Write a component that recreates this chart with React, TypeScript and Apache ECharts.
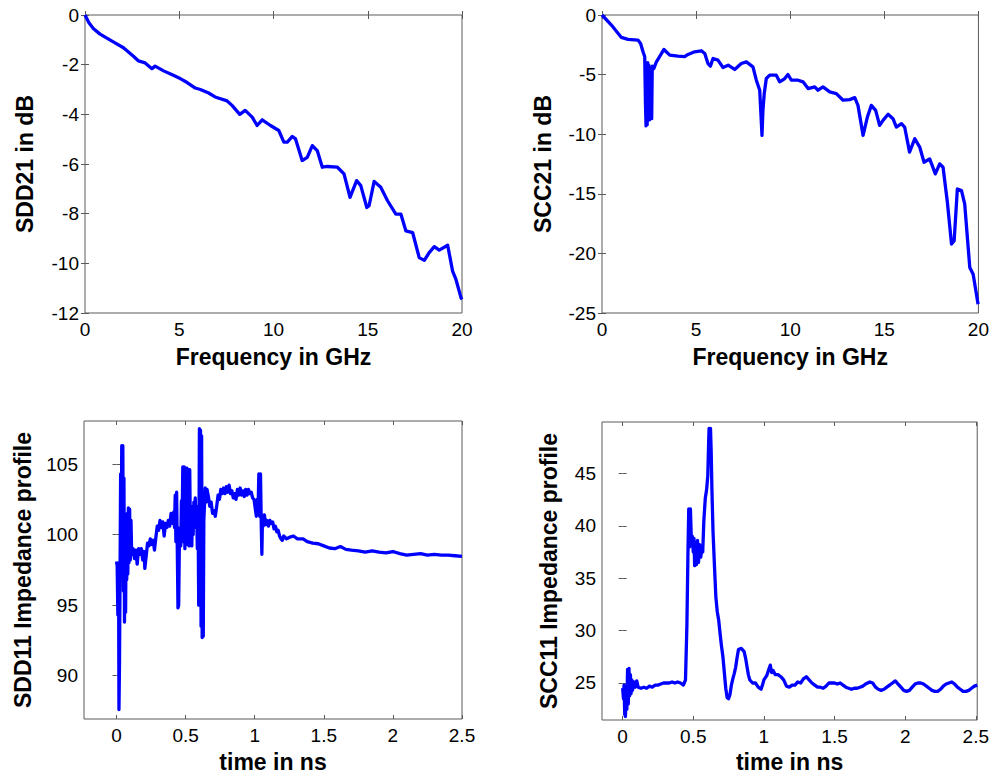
import React, { useEffect, useRef } from "react";
import * as echarts from "echarts";

// SDD21 (dB) vs frequency (GHz)
const sdd21Points: number[][] = [
  [0, 0], [0.2, -0.3], [0.44, -0.54], [0.8, -0.77], [1.5, -1.08], [2.04, -1.32], [2.57, -1.66],
  [2.84, -1.85], [3.19, -1.93], [3.55, -2.16], [3.72, -2.06], [4.17, -2.25], [4.6, -2.4],
  [5.05, -2.56], [5.4, -2.71], [5.85, -2.94], [6.12, -3.0], [6.56, -3.14], [6.9, -3.3],
  [7.54, -3.46], [7.8, -3.64], [8.21, -4.0], [8.5, -3.84], [8.87, -4.11], [9.13, -4.45],
  [9.4, -4.22], [9.84, -4.45], [10.28, -4.65], [10.55, -5.12], [10.73, -5.12], [11.0, -4.89],
  [11.17, -4.99], [11.52, -5.86], [11.79, -5.73], [12.06, -5.26], [12.32, -5.46], [12.59, -6.13],
  [12.85, -6.1], [13.39, -6.13], [13.74, -6.4], [14.06, -7.34], [14.41, -6.67], [14.63, -6.87],
  [14.95, -7.75], [15.07, -7.68], [15.34, -6.7], [15.69, -6.94], [16.05, -7.48], [16.49, -8.02],
  [16.76, -8.02], [17.02, -8.69], [17.38, -8.76], [17.73, -9.77], [18.0, -9.88], [18.26, -9.57],
  [18.53, -9.33], [18.79, -9.47], [19.24, -9.27], [19.5, -10.31], [19.68, -10.65], [19.95, -11.39],
  [20, -11.45],
];

// SCC21 (dB) vs frequency (GHz)
const scc21Points: number[][] = [
  [0, 0], [0.5, -0.84], [1.03, -1.88], [1.38, -2.05], [1.91, -2.1], [2.05, -2.39], [2.18, -3.09],
  [2.27, -3.5], [2.31, -7.5], [2.34, -9.3], [2.37, -4.5], [2.4, -9.2], [2.43, -4.0], [2.46, -8.5],
  [2.49, -4.2], [2.52, -8.8], [2.55, -4.5], [2.58, -8.7], [2.61, -5.0], [2.64, -8.7], [2.67, -4.3],
  [2.75, -4.5], [2.89, -3.93], [3.06, -3.5], [3.29, -2.89], [3.6, -3.37], [4.04, -3.45],
  [4.39, -3.5], [4.57, -3.31], [4.92, -3.09], [5.28, -3.0], [5.46, -3.23], [5.63, -4.07],
  [5.76, -4.29], [5.9, -3.65], [6.16, -3.79], [6.43, -4.4], [6.7, -4.21], [7.05, -4.57],
  [7.4, -4.07], [7.67, -3.93], [8.02, -4.35], [8.2, -5.47], [8.38, -6.31], [8.45, -8.5],
  [8.5, -10.1], [8.55, -8.0], [8.62, -6.59], [8.73, -5.33], [8.91, -5.05], [9.26, -5.05],
  [9.44, -5.61], [9.71, -5.33], [9.88, -4.99], [10.06, -5.47], [10.42, -5.47], [10.68, -5.61],
  [10.95, -6.17], [11.3, -6.03], [11.48, -6.31], [11.74, -6.03], [12.1, -6.45], [12.45, -6.59],
  [12.81, -7.15], [13.16, -7.1], [13.43, -6.93], [13.6, -7.58], [13.87, -10.1], [14.1, -8.56],
  [14.31, -7.58], [14.54, -8.0], [14.75, -9.26], [14.93, -8.84], [15.2, -8.33], [15.46, -8.7],
  [15.64, -9.4], [15.91, -9.12], [16.08, -9.4], [16.34, -11.5], [16.62, -10.38], [16.88, -11.08],
  [17.11, -12.35], [17.41, -12.07], [17.71, -13.33], [17.94, -12.49], [18.12, -12.77],
  [18.35, -15.71], [18.57, -19.22], [18.71, -18.94], [18.88, -14.59], [19.1, -14.73],
  [19.27, -15.85], [19.54, -21.18], [19.72, -21.75], [19.98, -24.27], [20, -24.3],
];

// SDD11 impedance profile vs time (ns)
const sdd11Points: number[][] = [
  [0, 98.1], [0.005, 97.8], [0.01, 94.3], [0.015, 98.0], [0.018, 87.6], [0.022, 91.0],
  [0.026, 97.5], [0.03, 104.3], [0.034, 97.0], [0.038, 106.3], [0.042, 102.0], [0.046, 106.3],
  [0.05, 96.0], [0.054, 104.0], [0.058, 93.8], [0.062, 99.5], [0.066, 94.5], [0.07, 100.7],
  [0.074, 96.8], [0.078, 101.5], [0.082, 97.2], [0.086, 101.9], [0.09, 98.0], [0.095, 101.8],
  [0.1, 98.2], [0.105, 101.0], [0.11, 98.6], [0.12, 99.0], [0.13, 98.3], [0.14, 98.9],
  [0.15, 97.9], [0.16, 99.0], [0.17, 98.6], [0.18, 99.0], [0.19, 98.2], [0.2, 98.8],
  [0.205, 97.6], [0.215, 98.5], [0.225, 99.4], [0.235, 99.2], [0.245, 99.7], [0.255, 99.3],
  [0.265, 99.6], [0.275, 98.9], [0.285, 99.8], [0.295, 100.6], [0.305, 100.3], [0.315, 101.0],
  [0.325, 100.5], [0.335, 100.9], [0.345, 99.9], [0.355, 100.8], [0.365, 100.5], [0.375, 101.0],
  [0.385, 100.6], [0.395, 101.5], [0.405, 100.8], [0.415, 101.6], [0.42, 100.5], [0.425, 102.8],
  [0.43, 99.5], [0.435, 103.0], [0.44, 99.0], [0.445, 94.8], [0.45, 95.0], [0.455, 99.5],
  [0.46, 100.5], [0.465, 99.2], [0.47, 102.4], [0.475, 101.0], [0.48, 104.8], [0.485, 99.5],
  [0.49, 104.8], [0.495, 99.0], [0.5, 104.7], [0.505, 99.3], [0.51, 104.7], [0.515, 99.5],
  [0.52, 104.6], [0.525, 99.2], [0.53, 104.6], [0.535, 100.0], [0.54, 101.0], [0.545, 99.2],
  [0.55, 102.0], [0.555, 100.0], [0.56, 102.3], [0.565, 101.5], [0.57, 102.6], [0.575, 100.5],
  [0.58, 101.8], [0.585, 99.0], [0.59, 102.0], [0.595, 95.0], [0.6, 107.5], [0.604, 95.5],
  [0.608, 107.4], [0.612, 93.5], [0.616, 107.0], [0.62, 92.7], [0.624, 96.0], [0.628, 92.8],
  [0.632, 101.0], [0.636, 101.9], [0.642, 103.3], [0.648, 102.3], [0.655, 103.2], [0.665, 102.7],
  [0.675, 102.0], [0.685, 102.3], [0.695, 101.5], [0.705, 101.7], [0.715, 101.3], [0.725, 102.0],
  [0.735, 102.8], [0.745, 102.5], [0.755, 103.2], [0.765, 102.9], [0.775, 103.3], [0.785, 102.9],
  [0.795, 103.4], [0.805, 103.0], [0.815, 103.5], [0.825, 102.9], [0.835, 103.1], [0.845, 102.6],
  [0.855, 102.9], [0.865, 102.5], [0.875, 103.2], [0.885, 102.8], [0.895, 103.3], [0.905, 102.8],
  [0.915, 103.1], [0.925, 102.7], [0.935, 103.2], [0.945, 102.8], [0.955, 103.2], [0.965, 102.9],
  [0.975, 103.0], [0.985, 102.6], [0.995, 102.5], [1.005, 101.8], [1.012, 101.3], [1.018, 102.5],
  [1.024, 101.5], [1.03, 104.3], [1.036, 101.3], [1.042, 104.3], [1.048, 100.5], [1.052, 98.6],
  [1.056, 101.0], [1.062, 100.6], [1.07, 101.4], [1.08, 100.7], [1.09, 101.0], [1.1, 100.6],
  [1.11, 101.0], [1.12, 100.8], [1.13, 100.9], [1.14, 100.4], [1.15, 100.6], [1.16, 100.2],
  [1.17, 100.3], [1.18, 99.9], [1.19, 99.7], [1.2, 99.6], [1.21, 99.9], [1.23, 99.7],
  [1.25, 99.8], [1.28, 99.9], [1.31, 99.7], [1.35, 99.7], [1.38, 99.5], [1.42, 99.4],
  [1.46, 99.35], [1.5, 99.2], [1.54, 99.05], [1.58, 99.0], [1.62, 99.15], [1.66, 98.95],
  [1.7, 98.9], [1.75, 98.85], [1.8, 98.75], [1.85, 98.85], [1.9, 98.75], [1.95, 98.7],
  [2.0, 98.8], [2.05, 98.65], [2.1, 98.55], [2.15, 98.6], [2.2, 98.65], [2.25, 98.55],
  [2.3, 98.6], [2.35, 98.55], [2.4, 98.55], [2.45, 98.5], [2.5, 98.45],
];

// SCC11 impedance profile vs time (ns)
const scc11Points: number[][] = [
  [0, 24.5], [0.006, 23.5], [0.01, 24.8], [0.015, 22.0], [0.02, 21.8], [0.025, 24.0],
  [0.03, 22.5], [0.035, 26.3], [0.04, 23.0], [0.045, 26.4], [0.05, 23.8], [0.055, 25.8],
  [0.06, 24.0], [0.065, 25.3], [0.07, 24.3], [0.08, 25.1], [0.09, 24.6], [0.1, 25.2],
  [0.11, 24.6], [0.13, 24.5], [0.15, 24.6], [0.17, 24.5], [0.19, 24.7], [0.21, 24.6],
  [0.23, 24.8], [0.25, 24.8], [0.27, 24.9], [0.29, 25.0], [0.31, 25.0], [0.33, 25.0],
  [0.35, 25.1], [0.37, 25.0], [0.39, 25.1], [0.41, 25.0], [0.43, 24.8], [0.445, 25.3],
  [0.455, 30.5], [0.462, 37.0], [0.468, 41.6], [0.475, 38.0], [0.48, 41.6], [0.487, 38.3],
  [0.493, 39.0], [0.5, 37.5], [0.505, 38.8], [0.51, 36.2], [0.517, 38.4], [0.523, 36.3],
  [0.53, 38.6], [0.537, 36.5], [0.545, 38.2], [0.553, 37.0], [0.56, 37.8], [0.567, 37.5],
  [0.575, 40.5], [0.585, 42.6], [0.595, 43.5], [0.603, 44.8], [0.608, 47.5], [0.612, 49.3],
  [0.617, 46.0], [0.622, 49.3], [0.627, 47.0], [0.632, 43.5], [0.64, 39.4], [0.65, 36.2],
  [0.66, 33.2], [0.67, 31.8], [0.68, 31.0], [0.69, 29.7], [0.7, 28.5], [0.71, 27.5],
  [0.72, 26.0], [0.73, 24.5], [0.74, 23.6], [0.75, 23.5], [0.76, 23.9], [0.77, 24.8],
  [0.78, 25.4], [0.79, 25.9], [0.8, 26.5], [0.81, 27.4], [0.82, 28.2], [0.84, 28.3],
  [0.86, 28.0], [0.87, 27.4], [0.88, 26.6], [0.89, 25.8], [0.9, 25.3], [0.92, 25.0],
  [0.94, 25.0], [0.96, 24.6], [0.98, 24.4], [0.99, 24.8], [1.0, 25.3], [1.02, 25.7],
  [1.035, 26.3], [1.045, 26.7], [1.055, 26.0], [1.065, 26.2], [1.08, 25.8], [1.1, 25.8],
  [1.12, 25.6], [1.14, 25.3], [1.16, 24.7], [1.18, 24.6], [1.2, 24.8], [1.22, 24.8],
  [1.24, 25.1], [1.26, 25.0], [1.28, 25.4], [1.3, 25.6], [1.32, 25.3], [1.34, 25.0],
  [1.36, 24.8], [1.38, 24.6], [1.4, 24.6], [1.42, 24.5], [1.44, 24.7], [1.46, 25.0],
  [1.48, 25.0], [1.5, 25.0], [1.52, 24.9], [1.54, 25.0], [1.56, 24.8], [1.58, 24.6],
  [1.6, 24.5], [1.62, 24.4], [1.64, 24.5], [1.66, 24.5], [1.68, 24.6], [1.7, 24.7],
  [1.72, 24.9], [1.75, 25.1], [1.77, 25.0], [1.79, 24.6], [1.81, 24.4], [1.83, 24.3],
  [1.85, 24.4], [1.87, 24.6], [1.89, 24.8], [1.91, 25.0], [1.93, 25.2], [1.95, 24.9],
  [1.97, 24.6], [1.99, 24.3], [2.01, 24.2], [2.03, 24.3], [2.05, 24.6], [2.07, 24.9],
  [2.09, 25.0], [2.11, 25.0], [2.13, 24.9], [2.15, 24.7], [2.17, 24.5], [2.19, 24.3],
  [2.21, 24.2], [2.23, 24.2], [2.25, 24.4], [2.27, 24.7], [2.29, 24.9], [2.31, 25.0],
  [2.33, 25.1], [2.35, 24.9], [2.37, 24.6], [2.39, 24.4], [2.41, 24.2], [2.43, 24.2],
  [2.45, 24.3], [2.47, 24.5], [2.49, 24.7], [2.51, 24.8],
];

// Tick values
const freqTicks = [0, 5, 10, 15, 20];
const sdd21Ticks = [-12, -10, -8, -6, -4, -2, 0];
const scc21Ticks = [-25, -20, -15, -10, -5, 0];
const timeTicks = [0, 0.5, 1, 1.5, 2, 2.5];
const sdd11Ticks = [90, 95, 100, 105];
const scc11Ticks = [25, 30, 35, 40, 45];

const FONT = "'Liberation Sans', Arial, Helvetica, sans-serif";
const BOX = "#5a5a5a";

type Panel = {
  grid: { left: number; top: number; width: number; height: number };
  xMin: number; xMax: number; xTicks: number[];
  yMin: number; yMax: number; yTicks: number[];
  xName: string; yName: string; xGap: number; yGap: number;
  data: number[][];
};

const panels: Panel[] = [
  { grid: { left: 85, top: 15, width: 377, height: 298 }, xMin: 0, xMax: 20, xTicks: freqTicks,
    yMin: -12, yMax: 0, yTicks: sdd21Ticks, xName: "Frequency in GHz", yName: "SDD21 in dB",
    xGap: 32, yGap: 49, data: sdd21Points },
  { grid: { left: 602, top: 15, width: 377, height: 298 }, xMin: 0, xMax: 20, xTicks: freqTicks,
    yMin: -25, yMax: 0, yTicks: scc21Ticks, xName: "Frequency in GHz", yName: "SCC21 in dB",
    xGap: 32, yGap: 48, data: scc21Points },
  { grid: { left: 84, top: 421, width: 378, height: 298 }, xMin: -0.235, xMax: 2.5, xTicks: timeTicks,
    yMin: 86.93, yMax: 108.05, yTicks: sdd11Ticks, xName: "time in ns", yName: "SDD11 Impedance profile",
    xGap: 31, yGap: 50, data: sdd11Points },
  { grid: { left: 602, top: 422, width: 377, height: 298 }, xMin: -0.146, xMax: 2.51, xTicks: timeTicks,
    yMin: 21.47, yMax: 49.9, yTicks: scc11Ticks, xName: "time in ns", yName: "SCC11 Impedance profile",
    xGap: 30, yGap: 42, data: scc11Points },
];

function buildOption() {
  const grid: any[] = [];
  const xAxis: any[] = [];
  const yAxis: any[] = [];
  const series: any[] = [];
  panels.forEach((p, i) => {
    grid.push({ ...p.grid, show: true, borderColor: BOX, borderWidth: 1, backgroundColor: "transparent" });
    const tick = { show: true, inside: true, length: 4, lineStyle: { color: BOX, width: 1 } };
    const xTick = { ...tick, customValues: p.xTicks };
    const yTick = { ...tick, customValues: p.yTicks };
    const labelStyle = { color: "#000", fontFamily: FONT, fontSize: 19 };
    const nameStyle = { color: "#000", fontFamily: FONT, fontSize: 23, fontWeight: "bold" };
    xAxis.push({
      type: "value", gridIndex: i, min: p.xMin, max: p.xMax, position: "bottom",
      axisLine: { show: false }, splitLine: { show: false },
      axisTick: xTick,
      axisLabel: { ...labelStyle, margin: 7, customValues: p.xTicks, showMinLabel: true, showMaxLabel: true },
      name: p.xName, nameLocation: "middle", nameGap: p.xGap, nameTextStyle: nameStyle,
    });
    xAxis.push({
      type: "value", gridIndex: i, min: p.xMin, max: p.xMax, position: "top",
      axisLine: { show: false }, splitLine: { show: false },
      axisTick: xTick, axisLabel: { show: false, customValues: p.xTicks },
    });
    yAxis.push({
      type: "value", gridIndex: i, min: p.yMin, max: p.yMax, position: "left",
      axisLine: { show: false }, splitLine: { show: false },
      axisTick: yTick,
      axisLabel: { ...labelStyle, margin: 6, customValues: p.yTicks, showMinLabel: true, showMaxLabel: true },
      name: p.yName, nameLocation: "middle", nameGap: p.yGap, nameTextStyle: nameStyle,
    });
    yAxis.push({
      type: "value", gridIndex: i, min: p.yMin, max: p.yMax, position: "right",
      axisLine: { show: false }, splitLine: { show: false },
      axisTick: yTick, axisLabel: { show: false, customValues: p.yTicks },
    });
    series.push({
      type: "line", xAxisIndex: i * 2, yAxisIndex: i * 2, data: p.data,
      showSymbol: false, symbol: "none", clip: true,
      lineStyle: { color: "#0000ff", width: 3.3, join: "round" },
      itemStyle: { color: "#0000ff" },
    });
  });
  return { animation: false, backgroundColor: "#ffffff", grid, xAxis, yAxis, series };
}

export default function App() {
  const ref = useRef<HTMLDivElement>(null);
  useEffect(() => {
    if (!ref.current) return;
    const chart = echarts.init(ref.current, undefined, { renderer: "svg" });
    chart.setOption(buildOption() as any);
    return () => chart.dispose();
  }, []);
  return (
    <div
      ref={ref}
      style={{ position: "fixed", left: 0, top: 0, width: 992, height: 778, background: "#fff" }}
    />
  );
}
